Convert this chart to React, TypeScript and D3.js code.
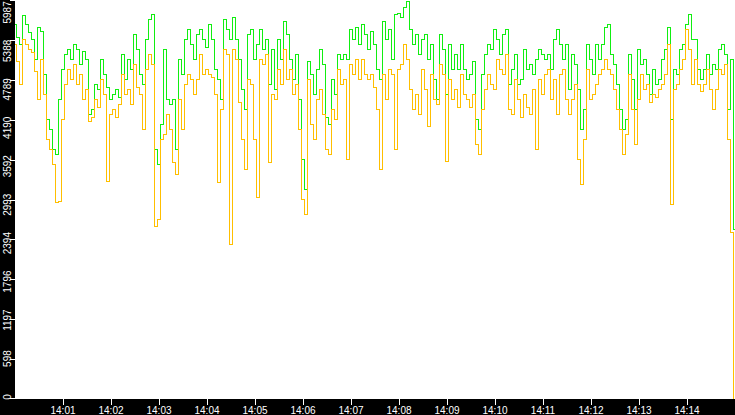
import React, { useEffect, useRef } from 'react';
import * as d3 from 'd3';

// samples are 3.75 s apart, starting 14:00:00
const start_time = new Date(2020, 0, 1, 14, 0, 0);
const end_time = new Date(2020, 0, 1, 14, 15, 0);
const sample_ms = 3750;

const max_values: number[] = [
  5612, 5417, 5312, 5747, 5612, 5492, 5387, 5087, 5567, 5507,
  4862, 4187, 4037, 3737, 3662, 4487, 4937, 5162, 5237, 5087,
  5312, 5237, 5012, 5207, 5087, 4262, 4337, 4712, 4637, 5087,
  4862, 4667, 4487, 4562, 4637, 4517, 5162, 4787, 5087, 4937,
  5462, 5237, 4862, 4712, 5387, 5687, 5762, 3737, 3512, 4112,
  5237, 4487, 4412, 4487, 3737, 5087, 4862, 5387, 5537, 5312,
  5087, 5462, 5537, 5387, 5267, 5612, 5387, 4937, 4787, 4487,
  5687, 5537, 5387, 5717, 5387, 5087, 4637, 4337, 5462, 5537,
  5087, 5312, 5537, 5237, 5387, 4712, 5237, 4637, 5387, 5087,
  5657, 5462, 5087, 4787, 5162, 4487, 3587, 3137, 5057, 4862,
  4562, 4937, 5237, 5012, 4217, 4112, 4787, 4562, 5162, 5087,
  5162, 5087, 5537, 5387, 5567, 5312, 5612, 5462, 5237, 5507,
  5312, 4937, 4787, 5657, 5387, 5537, 5087, 5762, 5777, 5717,
  5867, 5957, 5537, 5312, 5462, 5162, 5387, 5462, 5087, 5312,
  4787, 4487, 5462, 5237, 4562, 5312, 4937, 5162, 4937, 5312,
  4937, 4787, 4862, 5057, 4187, 4037, 4862, 5162, 5312, 5237,
  5537, 5387, 5162, 5462, 5537, 4712, 4937, 5162, 4712, 4787,
  5237, 4937, 5012, 4862, 5087, 5237, 5162, 5087, 5162, 4937,
  5387, 5537, 5312, 5087, 5312, 4637, 5162, 5012, 4637, 4037,
  4337, 5312, 5087, 4862, 5312, 5087, 5312, 5567, 5612, 5162,
  5012, 4712, 4337, 4037, 4187, 5162, 4787, 4337, 5237, 5012,
  5087, 4862, 4562, 4937, 4712, 4787, 5087, 5237, 5567, 4187,
  4937, 4862, 5237, 5312, 5612, 5762, 5387, 5387, 4937, 4787,
  4937, 5162, 4862, 5012, 4937, 5237, 5312, 5162, 4337, 5087,
  2537,
];

const min_values: number[] = [
  5312, 5057, 4712, 5387, 5312, 5237, 5192, 4907, 4487, 5087,
  4562, 3887, 3737, 3512, 2942, 2957, 4187, 4712, 4937, 4787,
  5012, 4712, 4862, 4487, 4637, 4157, 4217, 4487, 4367, 4787,
  4562, 3257, 4262, 4337, 4217, 4412, 4862, 4562, 4637, 4412,
  5012, 4667, 4562, 4037, 4937, 5162, 5012, 2582, 2687, 3887,
  3962, 4262, 4037, 3542, 3362, 4487, 4037, 4712, 4862, 4787,
  4562, 4787, 5162, 4862, 4937, 4862, 4817, 4562, 3242, 4337,
  5237, 5162, 2312, 5237, 5087, 4442, 3887, 3437, 4787, 4712,
  3887, 3017, 5087, 5012, 5162, 3542, 4562, 4487, 4937, 4712,
  5237, 4787, 4937, 4562, 4712, 4037, 2987, 2762, 4787, 4112,
  3887, 4487, 4637, 4262, 3737, 3662, 4337, 4187, 4937, 4712,
  4787, 3587, 5012, 4862, 5087, 4787, 5087, 4862, 4787, 4862,
  4667, 4337, 3437, 4862, 4487, 4937, 4862, 3737, 4937, 5012,
  5312, 5087, 4637, 4337, 4562, 4262, 4937, 4637, 4082, 4862,
  4487, 4412, 5012, 4862, 3557, 4787, 4487, 4637, 4367, 4862,
  4562, 4487, 4367, 4562, 3812, 3662, 4337, 4637, 4862, 4712,
  4637, 5087, 4937, 4862, 5162, 4337, 4262, 4787, 4487, 4217,
  4562, 4367, 4262, 4637, 3737, 4787, 4562, 4862, 4937, 4487,
  4787, 4262, 4862, 4937, 4487, 4262, 4487, 4712, 3587, 3212,
  3887, 4937, 4487, 4562, 4712, 4862, 4937, 5087, 4937, 4862,
  4637, 4337, 4037, 3662, 3962, 4862, 4337, 3812, 4487, 4862,
  4637, 4712, 4442, 4562, 4517, 4637, 4712, 4862, 5312, 2912,
  4637, 4712, 4937, 5087, 5537, 5237, 4712, 5087, 4712, 4607,
  4712, 4937, 4637, 4337, 4637, 4937, 4862, 5012, 3887, 2492,
  0,
];

const y_max = 5987;
const y_tick_labels: string[] = ['0', '598', '1197', '1796', '2394', '2993', '3592', '4190', '4789', '5388', '5987'];

const WIDTH = 735;
const HEIGHT = 415;
const LEFT = 15;
const BOTTOM = 399;

const green = '#11ee11';
const orange = '#ffbf00';

export default function App() {
  const ref = useRef<SVGSVGElement>(null);

  useEffect(() => {
    const svg = d3.select(ref.current);
    svg.selectAll('*').remove();

    let x_scale = d3.scaleTime()
      .domain([start_time, end_time])
      .range([LEFT, WIDTH]);

    let y_scale = d3.scaleLinear()
      .domain([0, y_max])
      .range([BOTTOM, 0]);

    // labels are squeezed so the end ones stay inside the band
    let y_label_scale = d3.scaleLinear()
      .domain([0, y_max])
      .range([397, 12.4]);

    const time_of = (i: number) => new Date(start_time.getTime() + i * sample_ms);

    const line = d3.line<number>()
      .x((d, i) => x_scale(time_of(i)))
      .y(d => y_scale(d))
      .curve(d3.curveStep);

    svg.append('rect')
      .attr('width', WIDTH)
      .attr('height', HEIGHT)
      .attr('fill', 'white');

    svg.append('path')
      .datum(max_values)
      .attr('d', line)
      .attr('fill', 'none')
      .attr('stroke', green)
      .attr('stroke-width', 1)
      .attr('shape-rendering', 'crispEdges');

    svg.append('path')
      .datum(min_values)
      .attr('d', line)
      .attr('fill', 'none')
      .attr('stroke', orange)
      .attr('stroke-width', 1)
      .attr('shape-rendering', 'crispEdges');

    // black axis bands
    svg.append('rect')
      .attr('x', 0).attr('y', 0)
      .attr('width', LEFT).attr('height', HEIGHT)
      .attr('fill', 'black');
    svg.append('rect')
      .attr('x', 0).attr('y', BOTTOM)
      .attr('width', WIDTH).attr('height', HEIGHT - BOTTOM)
      .attr('fill', 'black');

    // y axis
    const y_ticks = y_tick_labels.map((t, i) => ({ label: t, value: (y_max * i) / 10 }));
    const yg = svg.append('g');
    yg.selectAll('line')
      .data(y_ticks)
      .join('line')
      .attr('x1', 10).attr('x2', LEFT)
      .attr('y1', d => Math.min(Math.round(y_scale(d.value)), BOTTOM - 1) + 0.5)
      .attr('y2', d => Math.min(Math.round(y_scale(d.value)), BOTTOM - 1) + 0.5)
      .attr('stroke', 'white')
      .attr('stroke-width', 1);
    yg.selectAll('text')
      .data(y_ticks)
      .join('text')
      .attr('transform', d => `translate(10.5,${y_label_scale(d.value)}) rotate(-90)`)
      .attr('text-anchor', 'middle')
      .attr('fill', 'white')
      .attr('font-family', 'Liberation Sans')
      .attr('font-size', 10)
      .text(d => d.label);

    // x axis
    const x_ticks = x_scale.ticks(d3.timeMinute.every(1) as any)
      .filter(t => t > start_time && t < end_time);
    const xg = svg.append('g');
    xg.selectAll('line')
      .data(x_ticks)
      .join('line')
      .attr('x1', d => Math.round(x_scale(d)) + 0.5)
      .attr('x2', d => Math.round(x_scale(d)) + 0.5)
      .attr('y1', BOTTOM).attr('y2', BOTTOM + 6)
      .attr('stroke', 'white')
      .attr('stroke-width', 1);
    xg.selectAll('text')
      .data(x_ticks)
      .join('text')
      .attr('x', d => x_scale(d))
      .attr('y', 414)
      .attr('text-anchor', 'middle')
      .attr('fill', 'white')
      .attr('font-family', 'Liberation Sans')
      .attr('font-size', 10)
      .text(d => d3.timeFormat('%H:%M')(d));
  }, []);

  return (
    <div style={{ position: 'fixed', left: 0, top: 0 }}>
      <svg ref={ref} width={WIDTH} height={HEIGHT} style={{ display: 'block' }} />
    </div>
  );
}
